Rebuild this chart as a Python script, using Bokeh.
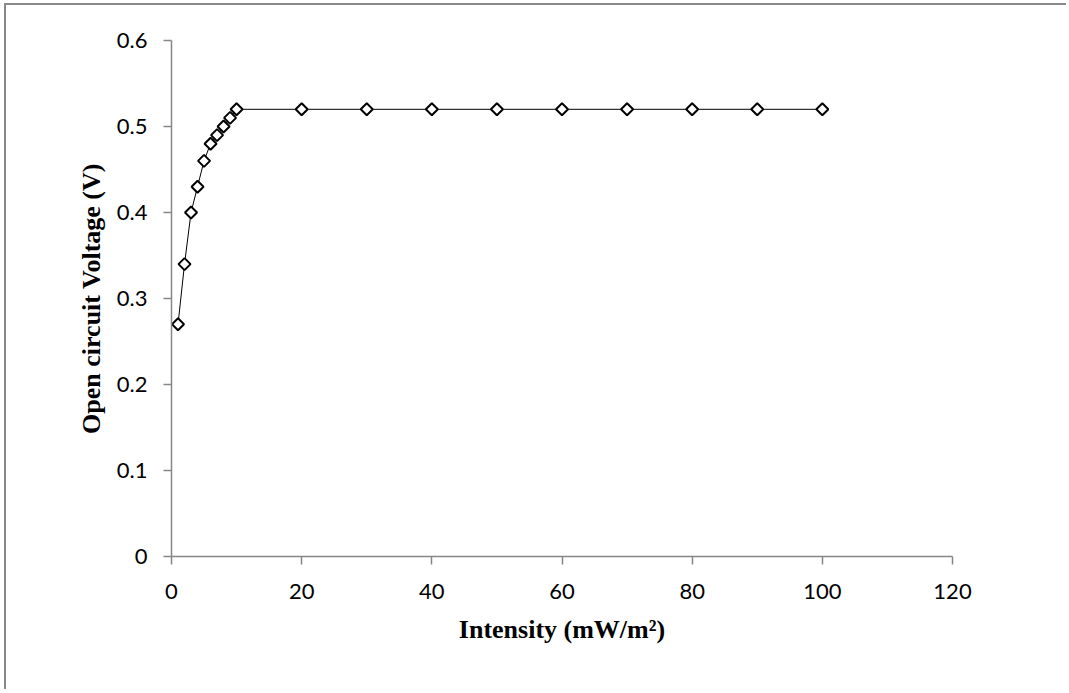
from bokeh.plotting import figure
from bokeh.embed import file_html
from bokeh.resources import INLINE
from bokeh.models import FixedTicker, NumeralTickFormatter, Range1d
import numpy as np

# Data
intensity = [1, 2, 3, 4, 5, 6, 7, 8, 9, 10, 20, 30, 40, 50, 60, 70, 80, 90, 100]
voc = [0.27, 0.34, 0.40, 0.43, 0.46, 0.48, 0.49, 0.50, 0.51, 0.52,
       0.52, 0.52, 0.52, 0.52, 0.52, 0.52, 0.52, 0.52, 0.52]
x_ticks = [0, 20, 40, 60, 80, 100, 120]
y_ticks = [0, 0.1, 0.2, 0.3, 0.4, 0.5, 0.6]

p = figure(width=1062, height=686, output_backend="svg", toolbar_location=None,
           x_range=Range1d(0, 120), y_range=Range1d(0, 0.6),
           min_border_left=165, min_border_right=116, min_border_top=35, min_border_bottom=135,
           styles={"border-top": "2px solid #888888", "border-left": "2px solid #888888",
                   "margin-left": "4px", "margin-top": "3px"})
p.outline_line_color = None
p.grid.visible = False
p.background_fill_color = "white"
p.border_fill_color = "white"

p.line(intensity, voc, line_color="black", line_width=1)
p.scatter(intensity, voc, marker="square", size=8.5, angle=np.pi / 4,
          line_color="black", line_width=2, fill_color="white")

axis_col = "#868686"
for ax in (p.xaxis[0], p.yaxis[0]):
    ax.axis_line_color = axis_col
    ax.axis_line_width = 1.5
    ax.major_tick_line_color = axis_col
    ax.major_tick_line_width = 1.5
    ax.major_tick_out = 8
    ax.major_tick_in = 0
    ax.minor_tick_line_color = None
    ax.major_label_text_font = "Lato"
    ax.major_label_text_font_size = "22px"
    ax.major_label_text_color = "black"
    ax.axis_label_text_font = "Liberation Serif"
    ax.axis_label_text_font_style = "bold"
    ax.axis_label_text_font_size = "26px"
    ax.axis_label_text_color = "black"

p.xaxis.ticker = FixedTicker(ticks=x_ticks)
p.yaxis.ticker = FixedTicker(ticks=y_ticks)
p.yaxis.formatter = NumeralTickFormatter(format="0.[0]")
p.xaxis.major_label_standoff = 19
p.yaxis.major_label_standoff = 16
p.xaxis.axis_label = "Intensity (mW/m\u00b2)"
p.yaxis.axis_label = "Open circuit Voltage (V)"
p.xaxis.axis_label_standoff = 13
p.yaxis.axis_label_standoff = 8

open("out.html", "w").write(file_html(p, INLINE))
